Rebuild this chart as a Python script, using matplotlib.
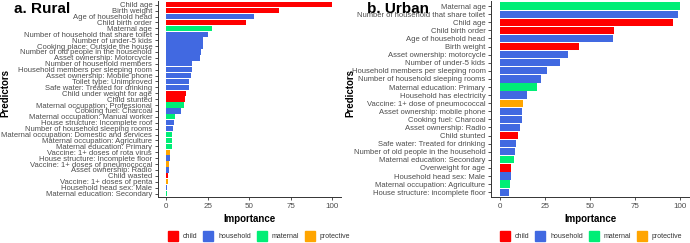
import matplotlib.pyplot as plt
from matplotlib.patches import Patch

plt.rcParams['font.family'] = ['Liberation Sans', 'DejaVu Sans']

group_colors = {'child': '#FF0000', 'household': '#4169E1',
                'maternal': '#00EE76', 'protective': '#FFA500'}

rural_labels = [
    'Child age', 'Birth weight', 'Age of household head', 'Child birth order',
    'Maternal age', 'Number of household that share toilet', 'Number of under-5 kids',
    'Cooking place: Outside the house', 'Number of old people in the household',
    'Asset ownership: Motorcycle', 'Number of household members',
    'Household members per sleeping room', 'Asset ownership: Mobile phone',
    'Toilet type: Unimproved', 'Safe water: Treated for drinking',
    'Child under weight for age', 'Child stunted', 'Maternal occupation: Professional',
    'Cooking fuel: Charcoal', 'Maternal occupation: Manual worker',
    'House structure: Incomplete roof', 'Number of household sleeping rooms',
    'Maternal occupation: Domestic and services', 'Maternal occupation: Agriculture',
    'Maternal education: Primary', 'Vaccine: 1+ doses of rota virus',
    'House structure: Incomplete floor', 'Vaccine: 1+ doses of pneumococcal',
    'Asset ownership: Radio', 'Child wasted', 'Vaccine: 1+ doses of penta',
    'Household head sex: Male', 'Maternal education: Secondary']
rural_values = [100, 67.8, 52.7, 48.3, 27.5, 25.0, 22.0, 22.0, 21.1, 20.3, 15.5, 15.5,
                14.9, 14.0, 14.0, 11.9, 11.6, 10.8, 9.0, 5.4, 4.5, 3.9, 3.7, 3.6, 3.3,
                2.4, 2.2, 2.0, 1.8, 1.4, 1.0, 0.6, 0.3]
rural_groups = ['child', 'child', 'household', 'child', 'maternal', 'household',
                'household', 'household', 'household', 'household', 'household',
                'household', 'household', 'household', 'household', 'child', 'child',
                'maternal', 'household', 'maternal', 'household', 'household',
                'maternal', 'maternal', 'maternal', 'protective', 'household',
                'protective', 'household', 'child', 'protective', 'household', 'maternal']

urban_labels = [
    'Maternal age', 'Number of household that share toilet', 'Child age',
    'Child birth order', 'Age of household head', 'Birth weight',
    'Asset ownership: motorcycle', 'Number of under-5 kids',
    'Household members per sleeping room', 'Number of household sleeping rooms',
    'Maternal education: Primary', 'Household has electricity',
    'Vaccine: 1+ dose of pneumococcal', 'Asset ownership: mobile phone',
    'Cooking fuel: Charcoal', 'Asset ownership: Radio', 'Child stunted',
    'Safe water: Treated for drinking', 'Number of old people in the household',
    'Maternal education: Secondary', 'Overweight for age', 'Household head sex: Male',
    'Maternal occupation: Agriculture', 'House structure: incomplete floor']
urban_values = [100, 99, 96, 63, 62.4, 44, 37.6, 33.5, 26.3, 23, 20.3, 14.9, 12.5,
                12.2, 12.2, 11.2, 10.0, 8.7, 8.3, 7.7, 6.1, 5.9, 5.5, 4.8]
urban_groups = ['maternal', 'household', 'child', 'child', 'household', 'child',
                'household', 'household', 'household', 'household', 'maternal',
                'household', 'protective', 'household', 'household', 'household',
                'child', 'household', 'household', 'maternal', 'child', 'household',
                'maternal', 'household']

ticks = [0, 25, 50, 75, 100]


def draw_panel(fig, rect, labels, values, groups, title, title_x, ylab_x, leg_x):
    ax = fig.add_axes(rect)
    n = len(labels)
    ypos = list(range(n, 0, -1))
    ax.barh(ypos, values, height=0.9, color=[group_colors[g] for g in groups])
    ax.set_xlim(-5, 105)
    ax.set_ylim(0.4, n + 0.6)
    ax.set_yticks(ypos)
    ax.set_yticklabels(labels, fontsize=5.5, color='#4D4D4D')
    ax.set_xticks(ticks)
    ax.set_xticklabels([str(t) for t in ticks], fontsize=5.8, color='#4D4D4D')
    ax.tick_params(axis='both', length=2.5, width=0.6, color='#333333', pad=1.5)
    for s in ['top', 'right']:
        ax.spines[s].set_visible(False)
    for s in ['left', 'bottom']:
        ax.spines[s].set_linewidth(0.7)
        ax.spines[s].set_color('#333333')
    ax.set_xlabel('Importance', fontsize=7, fontweight='bold', labelpad=3)
    fig.text(ylab_x, 0.617, 'Predictors', fontsize=7, fontweight='bold',
             rotation=90, ha='center', va='center')
    fig.text(title_x, 0.965, title, fontsize=11, fontweight='bold', va='center')
    handles = [Patch(color=c, label=k) for k, c in group_colors.items()]
    fig.legend(handles=handles, ncol=4, loc='center left',
               bbox_to_anchor=(leg_x, 0.03), frameon=False, fontsize=5.0,
               handlelength=1.4, handleheight=1.9, columnspacing=0.9,
               handletextpad=0.7, labelcolor='#333333', borderpad=0,
               borderaxespad=0)
    return ax


fig = plt.figure(figsize=(6.9, 2.43), dpi=100)

draw_panel(fig, [0.2286, 0.189, 0.265, 0.806], rural_labels, rural_values,
           rural_groups, 'a. Rural', 0.021, 5 / 690, 168 / 690)
draw_panel(fig, [0.7116, 0.189, 0.2874, 0.806], urban_labels, urban_values,
           urban_groups, 'b. Urban', 0.532, 350.5 / 690, 500 / 690)

fig.savefig('out.png', dpi=100)
